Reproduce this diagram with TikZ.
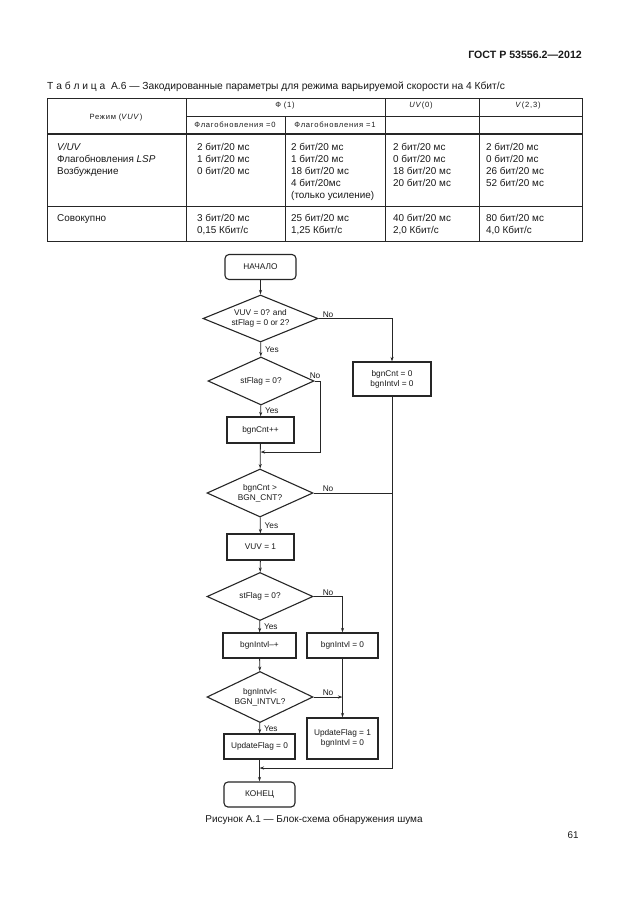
\documentclass[tikz,border=0pt]{standalone}
\usepackage{fontspec}
\setmainfont{Liberation Sans}
\newfontfamily\spacedfont[LetterSpace=10]{Liberation Sans}
\usetikzlibrary{shapes.geometric,arrows.meta}

\begin{document}
\begin{tikzpicture}[x=1pt, y=-1pt,
    >={Stealth[length=4.5pt,width=3pt]},
    tline/.style={draw=inkline, line width=0.7pt},
    thickline/.style={draw=inkline, line width=1.6pt},
    cell/.style={font=\fontsize{9.9}{12}\selectfont, align=left, anchor=base west, inner sep=0pt, text=inktext},
    headcell/.style={font=\spacedfont\fontsize{7.6}{10}\selectfont, inner sep=0pt, text=inktext},
    block/.style={draw=inkline, line width=1.1pt, minimum width=71pt, minimum height=25pt, inner sep=1pt, align=center, font=\fontsize{8.3}{10}\selectfont, text=inktext},
    termbox/.style={block, rounded corners=4pt},
    decision/.style={diamond, draw=inkline, line width=1.1pt, aspect=2.2, inner sep=0pt, minimum width=106pt, minimum height=48pt, align=center, font=\fontsize{8.3}{10}\selectfont, text=inktext},
    link/.style={draw=inkline, line width=0.8pt},
    lbl/.style={font=\fontsize{8.3}{10}\selectfont, inner sep=1pt, text=inktext}]
  % Define colors
  \colorlet{inkline}{black!85}
  \colorlet{inktext}{black!90}

  % Page
  \useasboundingbox[fill=white] (0,0) rectangle (630,913);

  % Running head and table title
  \node[anchor=east, inner sep=0pt, font=\fontsize{10.6}{12}\selectfont\bfseries, text=inktext] (runhead) at (582,55) {ГОСТ Р 53556.2—2012};
  \node[anchor=west, inner sep=0pt, font=\fontsize{10.25}{12}\selectfont, text=inktext] (tabtitle) at (47,87) {Т а б л и ц а\ \ А.6 — Закодированные параметры для режима варьируемой скорости на 4 Кбит/с};

  % Table lines
  \draw[tline] (47,98) rectangle (582,241);
  \draw[tline] (186,98) -- (186,241);
  \draw[tline] (285,116) -- (285,241);
  \draw[tline] (385,98) -- (385,241);
  \draw[tline] (479,98) -- (479,241);
  \draw[tline] (186,116) -- (582,116);
  \draw[thickline] (47,134) -- (582,134);
  \draw[tline] (47,206) -- (582,206);

  % Table head
  \node[headcell] (hmode) at (116,118) {Режим (\textit{VUV})};
  \node[headcell] (hphi) at (285,106) {Ф (1)};
  \node[headcell] (huv) at (421,106) {\textit{UV}(0)};
  \node[headcell] (hv) at (528,106) {\textit{V}(2,3)};
  \node[headcell] (hflag0) at (235,125) {Флагобновления =0};
  \node[headcell] (hflag1) at (335,125) {Флагобновления =1};

  % Table body (base = last line)
  \node[cell] (rmode) at (57,174.5) {\textit{V/UV}\\Флагобновления \textit{LSP}\\Возбуждение};
  \node[cell] (rphi0) at (197,174.5) {2 бит/20 мс\\1 бит/20 мс\\0 бит/20 мс};
  \node[cell] (rphi1) at (291,198.5) {2 бит/20 мс\\1 бит/20 мс\\18 бит/20 мс\\4 бит/20мс\\(только усиление)};
  \node[cell] (ruv) at (393,186.5) {2 бит/20 мс\\0 бит/20 мс\\18 бит/20 мс\\20 бит/20 мс};
  \node[cell] (rv) at (486,186.5) {2 бит/20 мс\\0 бит/20 мс\\26 бит/20 мс\\52 бит/20 мс};

  \node[cell] (tmode) at (57,221.5) {Совокупно};
  \node[cell] (tphi0) at (197,233.5) {3 бит/20 мс\\0,15 Кбит/с};
  \node[cell] (tphi1) at (291,233.5) {25 бит/20 мс\\1,25 Кбит/с};
  \node[cell] (tuv) at (393,233.5) {40 бит/20 мс\\2,0 Кбит/с};
  \node[cell] (tv) at (486,233.5) {80 бит/20 мс\\4,0 Кбит/с};

  % Flowchart blocks
  \node[termbox] (start) at (260.5,267) {НАЧАЛО};
  \node[decision, minimum width=115pt, minimum height=47pt] (askvuv) at (260.5,318.5) {VUV = 0? and\\stFlag = 0 or 2?};
  \node[block, minimum width=78pt, minimum height=34pt] (reset) at (392,379) {bgnCnt = 0\\bgnIntvl = 0};
  \node[decision] (askflag) at (261,381) {stFlag = 0?};
  \node[block, minimum width=67pt, minimum height=26pt] (cntinc) at (260.5,430) {bgnCnt++};
  \node[decision] (askcnt) at (260,493) {bgnCnt >\\BGN\_CNT?};
  \node[block, minimum width=67pt, minimum height=26pt] (setvuv) at (260.5,547) {VUV = 1};
  \node[decision] (askflagb) at (260,596.5) {stFlag = 0?};
  \node[block, minimum width=73pt] (intinc) at (259.5,645.5) {bgnIntvl–+};
  \node[block] (intzero) at (342.5,645.5) {bgnIntvl = 0};
  \node[decision, minimum height=51pt] (askint) at (260,697) {bgnIntvl<\\BGN\_INTVL?};
  \node[block, minimum height=41pt] (updone) at (342.5,738.5) {UpdateFlag = 1\\bgnIntvl = 0};
  \node[block] (updzero) at (259.5,746.5) {UpdateFlag = 0};
  \node[termbox] (finish) at (259.5,794.5) {КОНЕЦ};

  % Junctions on the main line
  \coordinate (joinflag) at (260.5,452);
  \coordinate (joinend) at (259.5,768);

  % Connectors
  \draw[link,->] (start) -- (askvuv);
  \draw[link,->] (askvuv) -- node[lbl, right, xshift=3pt] (yesa) {Yes} (askflag);
  \draw[link,->] (askvuv.east) -| (reset.north);
  \node[lbl, anchor=south west] (noa) at ([xshift=3pt]askvuv.east) {No};
  \draw[link,->] (askflag) -- node[lbl, right, xshift=3pt] (yesb) {Yes} (cntinc);
  \draw[link,->] (askflag.east) -- ++(6,0) |- (joinflag);
  \node[lbl, anchor=south west] (nob) at ([xshift=-6pt,yshift=1pt]askflag.east) {No};
  \draw[link,->] (cntinc) -- (askcnt);
  \draw[link] (askcnt.east) -- (askcnt.east -| reset.south);
  \node[lbl, anchor=south west] (noc) at ([xshift=8pt]askcnt.east) {No};
  \draw[link,->] (reset.south) |- (joinend);
  \draw[link,->] (askcnt) -- node[lbl, right, xshift=3pt] (yesc) {Yes} (setvuv);
  \draw[link,->] (setvuv) -- (askflagb);
  \draw[link,->] (askflagb) -- node[lbl, right, xshift=3pt] (yesd) {Yes} (intinc);
  \draw[link,->] (askflagb.east) -| (intzero.north);
  \node[lbl, anchor=south west] (nod) at ([xshift=8pt]askflagb.east) {No};
  \draw[link,->] (intinc) -- (askint);
  \draw[link,->] (askint.east) -- (askint.east -| intzero.south);
  \node[lbl, anchor=south west] (noe) at ([xshift=8pt]askint.east) {No};
  \draw[link,->] (intzero) -- (updone);
  \draw[link,->] (askint) -- node[lbl, right, xshift=3pt] (yese) {Yes} (updzero);
  \draw[link,->] (updzero) -- (finish);

  % Caption and page number
  \node[inner sep=0pt, font=\fontsize{10}{12}\selectfont, text=inktext] (figcap) at (314,820) {Рисунок А.1 — Блок-схема обнаружения шума};
  \node[inner sep=0pt, font=\fontsize{9.8}{12}\selectfont, text=inktext] (pagenum) at (573,835) {61};
\end{tikzpicture}
\end{document}
